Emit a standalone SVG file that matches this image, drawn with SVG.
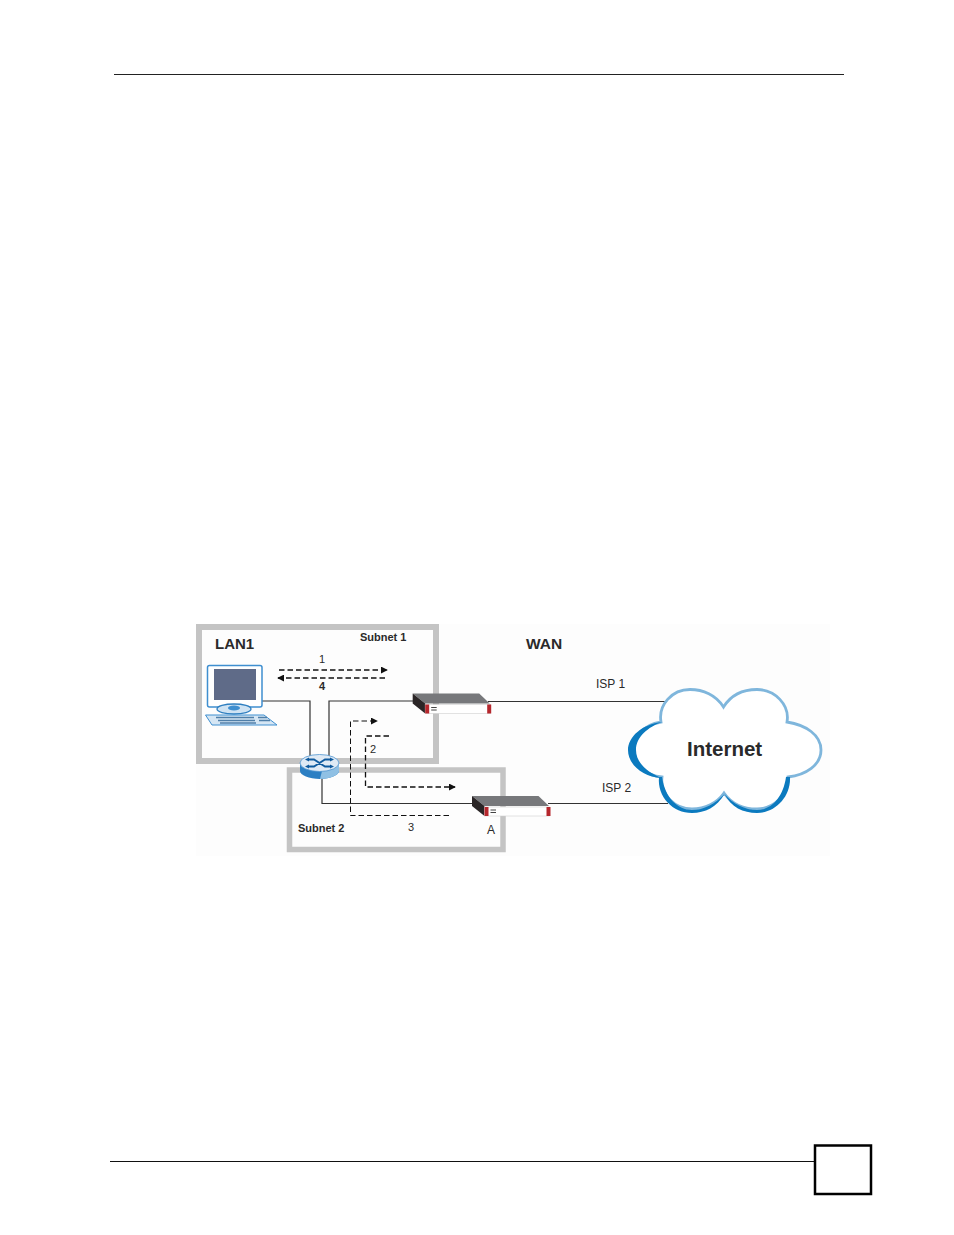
<svg xmlns="http://www.w3.org/2000/svg" width="954" height="1235" viewBox="0 0 954 1235">
<style>
text{font-family:"Liberation Sans",Arial,sans-serif;fill:#2a2a2a}
.b{font-weight:bold}
.l{font-size:11px}
.n{font-size:12px}
.wire{fill:none;stroke:#333;stroke-width:1.2}
.dash{fill:none;stroke:#111;stroke-width:1.3;stroke-dasharray:5.500 3}
.zone{fill:none;stroke:#c4c4c4}
.top{fill:#77787b}.side{fill:#2a2526}.front{fill:#fff;stroke:#cfcfcf;stroke-width:.6}.cap{fill:#b5272d}.mk{stroke:#444;stroke-width:1}
.rt{fill:none;stroke:#0f5a9e;stroke-width:1.800}
</style>
<defs>
<marker id="ah" viewBox="0 0 8 8" refX="7" refY="4" markerWidth="7" markerHeight="7" markerUnits="userSpaceOnUse" orient="auto"><path d="M0 0L8 4L0 8z" fill="#111"/></marker>
<g id="dev">
<path class="top" d="M0 0H66.500L77 10H12.500z"/>
<path class="side" d="M0 0L12.500 10V20L0 10z"/>
<rect class="front" x="12.500" y="11" width="65" height="9"/>
<rect class="cap" x="12.500" y="11" width="4" height="9"/>
<rect class="cap" x="74.500" y="11" width="4" height="9"/>
<path class="mk" d="M18.500 14H24M18.500 16.500H24"/>
</g>
</defs>
<rect width="954" height="1235" fill="#fff"/>
<rect x="196" y="624" width="634" height="232" fill="#fdfdfd"/>
<g id="page">
<path d="M114 74.500H844" stroke="#222" stroke-width="1"/>
<path d="M110 1161.500H814" stroke="#111" stroke-width="1"/>
<rect x="815" y="1145.500" width="56" height="48.500" fill="#fff" stroke="#000" stroke-width="2.500"/>
</g>
<g id="zones">
<rect id="subnet1" class="zone" stroke-width="6" x="199" y="627" width="237" height="134"/>
<rect id="subnet2" class="zone" stroke-width="5.500" x="289.500" y="770" width="213.500" height="79.500"/>
</g>
<g id="connectors">
<path class="wire" d="M262 701H310V756"/>
<path class="wire" d="M329 756V701H416"/>
<path class="wire" d="M322 778V803.500H476"/>
<path class="wire" d="M488 701.500H668"/>
<path class="wire" d="M548 803.500H668"/>
<path class="dash" d="M279 670H387" marker-end="url(#ah)"/>
<path class="dash" d="M385 678H278" marker-end="url(#ah)"/>
<path class="dash" style="stroke-width:1" d="M449 815.500H350.500V721H377" marker-end="url(#ah)"/>
<path class="dash" d="M389 736H365.500V787H455" marker-end="url(#ah)"/>
</g>
<g id="cloud">
<path fill="#fff" stroke="#7fb6dc" stroke-width="2.800" d="M723.500 707C716 695 703 689.500 690 689.500C672 689.500 658 705 661 722C642 725 634 738 634 750C634 763 645 776 662 777C660 795 675 809 692 809C705 809 717 803 724 793C731 803 743 809 757 809C773 809 789 795 788 777C806 775 821 765 821 750C821 735 806 725 787 722C790 705 775 689.500 757 689.500C743 689.500 731 695 723.500 707Z"/>
<path fill="#0b7abf" d="M662 722C642 724 628 737 628 750C628 764 642 777 662 778C648 773 636 763 636 750C636 737 648 727 662 722Z"/>
<path fill="#0b7abf" d="M659 777C657 797 673 813 692 813C705 813 717 807 724.500 794C715 804 704 810 692 810C678 810 665 798 662 777Z"/>
<path fill="#0b7abf" d="M790 777C791 797 775 813 757 813C743 813 731 807 724.500 794C733 804 745 810 757 810C771 810 783 798 786 777Z"/>
</g>
<g id="computer">
<rect x="207.500" y="665.500" width="54.500" height="41.500" rx="2" fill="#fff" stroke="#3f8fd0" stroke-width="1.500"/>
<rect x="214" y="669" width="42" height="31" fill="#5f6b88"/>
<ellipse cx="234" cy="709" rx="17" ry="5" fill="#cfe3f3" stroke="#2f7fc0" stroke-width="1.300"/>
<ellipse cx="234" cy="708" rx="6" ry="2.500" fill="#3f8fd0"/>
<path d="M205.500 715H264L277 725H212Z" fill="#d5e6f4" stroke="#3f8fd0" stroke-width="1"/>
<path d="M216 717.500H254M218 720.500H255M220 723H256M258 717.500H267M259 720.500H270" stroke="#4f7fa9" stroke-width="1.300"/>
</g>
<g id="router">
<path d="M300 763V771C300 775 309 779 320 779C330 779 339 775 339 771V763Z" fill="#2c7fc3"/>
<path d="M320 779C330 779 339 775 339 771V763L322 771Z" fill="#8fc0e4"/>
<ellipse cx="319.500" cy="763" rx="19.500" ry="8.500" fill="#dfeaf5" stroke="#4f94cf" stroke-width=".8"/>
<path class="rt" d="M308 759.500H314L325 766.500H331M308 766.500H314L325 759.500H331"/>
<path fill="#0f5a9e" d="M305 759.500L309 757.500V761.500ZM305 766.500L309 764.500V768.500ZM334 759.500L330 757.500V761.500ZM334 766.500L330 764.500V768.500Z"/>
</g>
<use id="deviceA" href="#dev" x="412.700" y="693.500"/>
<use id="deviceB" href="#dev" x="472" y="796"/>
<g id="labels">
<text class="b" x="215" y="649" font-size="15">LAN1</text>
<text class="b l" x="360" y="641">Subnet 1</text>
<text class="b" x="526" y="649" font-size="15.500">WAN</text>
<text class="l" x="319" y="663">1</text>
<text class="b l" x="319" y="690">4</text>
<text class="l" x="370" y="753">2</text>
<text class="l" x="408" y="831">3</text>
<text class="b l" x="298" y="832">Subnet 2</text>
<text class="n" x="487" y="834">A</text>
<text class="n" x="596" y="688">ISP 1</text>
<text class="n" x="602" y="792">ISP 2</text>
<text class="b" x="687" y="756" font-size="20.500">Internet</text>
</g>
</svg>
